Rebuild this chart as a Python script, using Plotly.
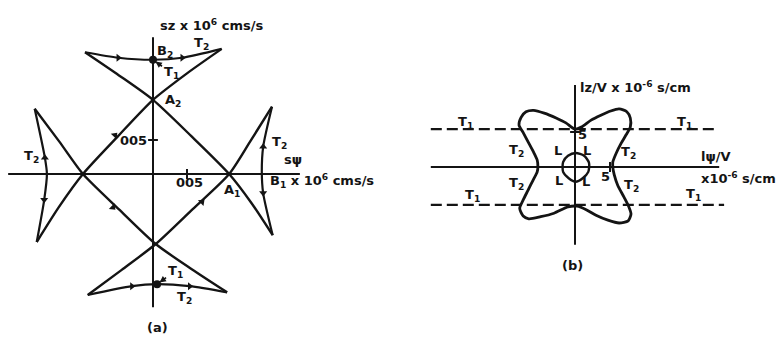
import plotly.graph_objects as go

# ---------------- panel (a): slowness curves, units x10^6 cm s / s ----------------
# four crossing branches (cusp -> A -> A -> cusp)
branch1_u = [-0.100, -0.050, 0.000, 0.056, 0.112, 0.145, 0.176]
branch1_v = [0.179, 0.145, 0.109, 0.056, 0.000, -0.043, -0.090]
branch2_u = [0.101, 0.050, 0.000, -0.052, -0.103, -0.138, -0.171]
branch2_v = [0.184, 0.148, 0.109, 0.055, 0.000, -0.048, -0.100]
branch3_u = [0.175, 0.143, 0.112, 0.058, 0.004, -0.046, -0.096]
branch3_v = [0.099, 0.048, 0.000, -0.052, -0.103, -0.141, -0.178]
branch4_u = [-0.174, -0.138, -0.103, -0.050, 0.004, 0.057, 0.109]
branch4_v = [0.096, 0.048, 0.000, -0.052, -0.103, -0.140, -0.174]

# T2 arcs closing the four cusps
top_u = [-0.100, -0.051, 0.000, 0.043, 0.101]
top_v = [0.179, 0.171, 0.168, 0.171, 0.184]
right_u = [0.175, 0.162, 0.160, 0.162, 0.176]
right_v = [0.099, 0.040, 0.003, -0.028, -0.090]
left_u = [-0.174, -0.159, -0.156, -0.160, -0.171]
left_v = [0.096, 0.024, 0.000, -0.038, -0.100]
bottom_u = [-0.096, -0.031, 0.006, 0.054, 0.109]
bottom_v = [-0.178, -0.165, -0.162, -0.165, -0.174]

# direction arrows along the curves (angle: clockwise from up)
arrow_u = [-0.051, 0.043, 0.162, 0.162, -0.159, -0.160, -0.031, 0.054, -0.056, -0.059, 0.072]
arrow_v = [0.171, 0.171, 0.040, -0.028, 0.024, -0.038, -0.165, -0.165, 0.057, -0.049, -0.041]
arrow_ang = [90, 90, 0, 180, 0, 180, 90, 90, 43, 133, 46]

# points B2 (top) and its mirror at the bottom
bpts_u = [0.000, 0.006]
bpts_v = [0.168, -0.162]

axis_a_len = 0.213
tick_a = 0.05

# ---------------- panel (b): inverse velocity, units x10^-6 s/cm ----------------
wing_u = [0, 0.9, 2.3, 3.7, 5.1, 6.3, 7.4, 7.9, 7.9, 7.3, 6.6, 5.9, 5.4, 5.4,
          5.6, 6.1, 7.0, 7.7, 8.0, 7.6, 6.3, 4.7, 3.0, 1.6, 0.3,
          -1.0, -3.0, -4.9, -6.6, -7.4, -7.9, -7.4, -6.7, -6.0, -5.4, -5.3,
          -5.4, -5.9, -6.7, -7.4, -8.0, -7.7, -7.0, -5.9, -4.4, -2.7, -1.3, 0]
wing_v = [5.4, 5.7, 6.7, 7.4, 8.0, 8.3, 7.9, 7.0, 5.7, 4.6, 3.4, 2.0, 0.7, 0,
          -1.1, -2.6, -4.3, -5.7, -6.7, -7.7, -8.0, -7.6, -6.9, -6.1, -5.6,
          -5.7, -6.6, -7.1, -7.4, -7.0, -5.9, -4.7, -3.3, -1.9, -0.7, 0,
          1.0, 2.1, 3.6, 4.9, 6.0, 7.1, 7.9, 8.1, 7.7, 7.0, 6.3, 5.4]

long_u = [0.1, 1.3, 2.0, 1.9, 1.1, 0.1, -0.9, -1.7, -1.7, -1.0, 0.1]
long_v = [2.0, 1.6, 0.6, -0.7, -1.6, -2.1, -1.6, -0.7, 0.7, 1.6, 2.0]

t1_level_up = 5.4
t1_level_dn = -5.4
t1_u_up = [-20.6, 20.4]
t1_u_dn = [-20.6, 21.3]
axis_b_u = [-20.6, 20.6]
axis_b_v = [-11.1, 11.7]
tick_b = 5

INK = "#141414"
FONT = "DejaVu Sans"

fig = go.Figure()


def curve(xs, ys, xa, ya, width=2.0, shape="spline", dash=None):
    fig.add_trace(go.Scatter(
        x=xs, y=ys, mode="lines", xaxis=xa, yaxis=ya, hoverinfo="skip",
        line=dict(color=INK, width=width, shape=shape, smoothing=0.7, dash=dash),
        showlegend=False))


# panel (a)
curve([-axis_a_len, axis_a_len + 0.003], [0, 0], "x", "y", 2.0, "linear")
curve([0, 0], [-0.196, 0.201], "x", "y", 2.0, "linear")
for bu, bv in [(branch1_u, branch1_v), (branch2_u, branch2_v),
               (branch3_u, branch3_v), (branch4_u, branch4_v)]:
    curve(bu, bv, "x", "y", 2.4)
for bu, bv in [(top_u, top_v), (right_u, right_v), (left_u, left_v), (bottom_u, bottom_v)]:
    curve(bu, bv, "x", "y", 2.2)

fig.add_trace(go.Scatter(
    x=arrow_u, y=arrow_v, mode="markers", xaxis="x", yaxis="y", hoverinfo="skip",
    marker=dict(symbol="triangle-up", size=7, color=INK, angle=arrow_ang),
    showlegend=False))
fig.add_trace(go.Scatter(
    x=bpts_u, y=bpts_v, mode="markers", xaxis="x", yaxis="y", hoverinfo="skip",
    marker=dict(symbol="circle", size=8, color=INK), showlegend=False))
fig.add_trace(go.Scatter(
    x=[tick_a, 0], y=[0, tick_a], mode="markers", xaxis="x", yaxis="y", hoverinfo="skip",
    marker=dict(symbol=["line-ns", "line-ew"], size=7, line=dict(color=INK, width=2)),
    showlegend=False))

# panel (b)
curve(axis_b_u, [0, 0], "x2", "y2", 2.0, "linear")
curve([0, 0], axis_b_v, "x2", "y2", 2.0, "linear")
curve(t1_u_up, [t1_level_up] * 2, "x2", "y2", 2.2, "linear", "11px,5px")
curve(t1_u_dn, [t1_level_dn] * 2, "x2", "y2", 2.2, "linear", "11px,5px")
curve(wing_u, wing_v, "x2", "y2", 2.8)
curve(long_u, long_v, "x2", "y2", 2.4)
fig.add_trace(go.Scatter(
    x=[0, tick_b], y=[tick_b, 0], mode="markers", xaxis="x2", yaxis="y2", hoverinfo="skip",
    marker=dict(symbol=["line-ew", "line-ns"], size=7, line=dict(color=INK, width=2)),
    showlegend=False))

# labels
labels_a = [
    ("sz x 10<sup>6</sup> cms/s", 0.007, 0.219, "left"),
    ("B<sub>2</sub>", 0.003, 0.180, "left"),
    ("T<sub>2</sub>", 0.057, 0.192, "left"),
    ("A<sub>2</sub>", 0.015, 0.108, "left"),
    ("005", -0.029, 0.049, "center"),
    ("005", 0.053, -0.013, "center"),
    ("T<sub>2</sub>", 0.172, 0.046, "left"),
    ("T<sub>2</sub>", -0.179, 0.026, "center"),
    ("s\u03c8", 0.190, 0.022, "left"),
    ("B<sub>1</sub> x 10<sup>6</sup> cms/s", 0.169, -0.010, "left"),
    ("A<sub>1</sub>", 0.101, -0.024, "left"),
    ("T<sub>2</sub>", 0.032, -0.182, "left"),
    ("(a)", 0.006, -0.226, "center"),
]
labels_b = [
    ("lz/V x 10<sup>-6</sup> s/cm", 0.4, 11.4, "left"),
    ("T<sub>1</sub>", -15.7, 6.3, "center"),
    ("T<sub>1</sub>", 15.7, 6.4, "center"),
    ("5", 1.1, 4.6, "center"),
    ("L", -2.4, 2.4, "center"),
    ("L", 1.7, 2.4, "center"),
    ("T<sub>2</sub>", -8.3, 2.4, "center"),
    ("T<sub>2</sub>", 7.7, 2.1, "center"),
    ("l\u03c8/V", 17.7, 1.5, "left"),
    ("x10<sup>-6</sup> s/cm", 17.7, -1.6, "left"),
    ("L", -2.3, -1.9, "center"),
    ("L", 1.6, -2.1, "center"),
    ("5", 4.4, -1.4, "center"),
    ("T<sub>2</sub>", -8.3, -2.3, "center"),
    ("T<sub>2</sub>", 8.1, -2.6, "center"),
    ("T<sub>1</sub>", -14.7, -4.1, "center"),
    ("T<sub>1</sub>", 16.9, -3.9, "center"),
    ("(b)", -0.4, -14.1, "center"),
]
label_font = dict(family=FONT, size=13, color=INK, weight="bold")
annots = []
for txt, x, y, anc in labels_a:
    annots.append(dict(text=txt, x=x, y=y, xref="x", yref="y", xanchor=anc, yanchor="middle",
                       showarrow=False, font=label_font))
for txt, x, y, anc in labels_b:
    annots.append(dict(text=txt, x=x, y=y, xref="x2", yref="y2", xanchor=anc, yanchor="middle",
                       showarrow=False, font=label_font))
# T1 pointers to the B points
for (bu, bv), (ax, ay) in zip(zip(bpts_u, bpts_v), [(18, 13), (18, -13)]):
    annots.append(dict(text="T<sub>1</sub>", x=bu, y=bv, xref="x", yref="y",
                       ax=ax, ay=ay, showarrow=True, arrowhead=2, arrowsize=0.8,
                       arrowwidth=1.6, arrowcolor=INK, standoff=3, font=label_font))

W, H = 781, 338
split = 400 / W
fig.update_layout(
    width=W, height=H, margin=dict(l=0, r=0, t=0, b=0),
    paper_bgcolor="white", plot_bgcolor="white",
    xaxis=dict(domain=[0, split], range=[-153 / 680, (400 - 153) / 680], visible=False),
    yaxis=dict(domain=[0, 1], range=[(174 - 338) / 680, 174 / 680], visible=False),
    xaxis2=dict(domain=[split, 1], range=[(400 - 575) / 7, (781 - 575) / 7], visible=False),
    yaxis2=dict(domain=[0, 1], range=[(167 - 338) / 7, 167 / 7], visible=False,
                anchor="x2"),
    annotations=annots,
)
fig.write_html("out.html")
